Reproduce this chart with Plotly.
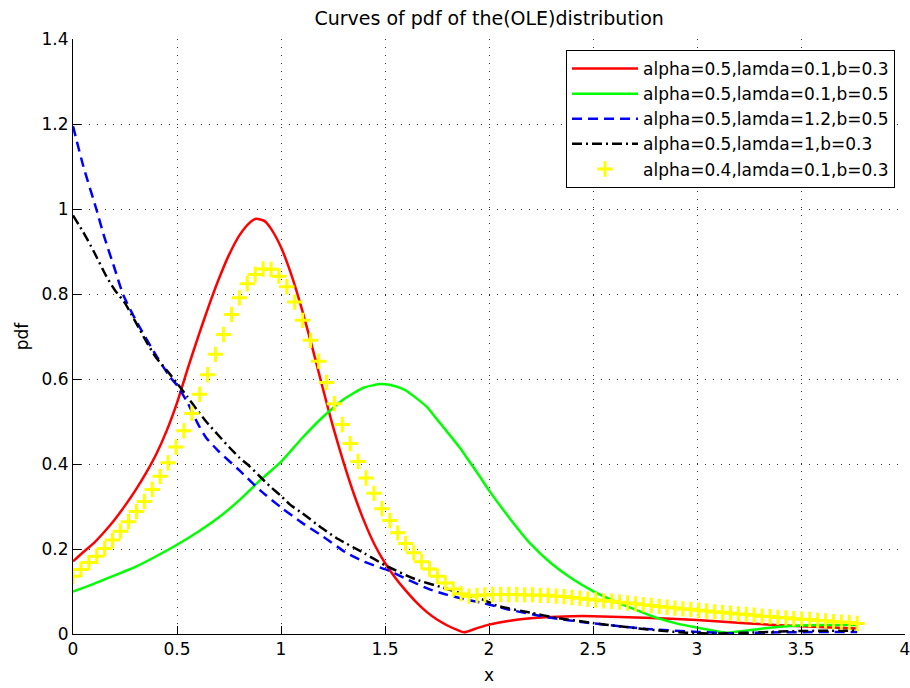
import plotly.graph_objects as go

# ---------------- data ----------------
red_x = [0.00, 0.05, 0.10, 0.15, 0.20, 0.25, 0.30, 0.35, 0.40, 0.45, 0.50, 0.55, 0.60, 0.65,
         0.70, 0.75, 0.80, 0.85, 0.88, 0.92, 0.95, 1.00, 1.05, 1.10, 1.15, 1.20,
         1.25, 1.30, 1.35, 1.40, 1.45, 1.50, 1.55, 1.60, 1.65, 1.70, 1.75, 1.80, 1.85, 1.88,
         1.95, 2.00, 2.10, 2.20, 2.30, 2.40, 2.50, 2.75, 3.00, 3.25, 3.50, 3.77]
red_y = [0.171, 0.193, 0.214, 0.240, 0.269, 0.302, 0.338, 0.378, 0.423, 0.478, 0.544, 0.622, 0.697, 0.768,
         0.834, 0.892, 0.938, 0.968, 0.977, 0.972, 0.955, 0.910, 0.845, 0.765, 0.675, 0.580,
         0.488, 0.405, 0.330, 0.265, 0.210, 0.167, 0.132, 0.102, 0.075, 0.052, 0.034, 0.020, 0.009, 0.004,
         0.015, 0.022, 0.031, 0.037, 0.040, 0.042, 0.042, 0.038, 0.033, 0.025, 0.018, 0.013]

green_x = [0.0, 0.1, 0.2, 0.3, 0.4, 0.5, 0.6, 0.7, 0.8, 0.9, 1.0, 1.1, 1.2, 1.3, 1.4, 1.48,
           1.55, 1.6, 1.7, 1.75, 1.8, 1.86, 1.9, 1.955, 2.0, 2.1, 2.2, 2.3, 2.4, 2.5, 2.6, 2.7,
           2.8, 2.9, 3.0, 3.1, 3.14, 3.2, 3.3, 3.4, 3.5, 3.6, 3.77]
green_y = [0.100, 0.118, 0.138, 0.158, 0.183, 0.210, 0.240, 0.274, 0.315, 0.362, 0.405, 0.460, 0.510,
           0.552, 0.580, 0.588, 0.583, 0.573, 0.535, 0.505, 0.475, 0.438, 0.410, 0.371, 0.338, 0.272,
           0.212, 0.166, 0.130, 0.101, 0.078, 0.058, 0.039, 0.025, 0.015, 0.006, 0.003, 0.006, 0.012,
           0.017, 0.020, 0.021, 0.021]

blue_x = [0.0, 0.05, 0.112, 0.15, 0.2, 0.24, 0.3, 0.4, 0.463, 0.5, 0.55, 0.6, 0.64, 0.7, 0.8, 0.9,
          1.0, 1.1, 1.2, 1.314, 1.4, 1.523, 1.6, 1.715, 1.8, 1.9, 1.971, 2.1, 2.276, 2.5, 2.757,
          3.0, 3.15, 3.4, 3.77]
blue_y = [1.195, 1.100, 1.000, 0.935, 0.860, 0.800, 0.740, 0.655, 0.607, 0.585, 0.545, 0.495, 0.462,
          0.430, 0.385, 0.338, 0.298, 0.262, 0.230, 0.191, 0.170, 0.148, 0.130, 0.105, 0.092, 0.080,
          0.073, 0.057, 0.040, 0.025, 0.012, 0.005, 0.002, 0.004, 0.005]

black_x = [0.0, 0.05, 0.1, 0.16, 0.2, 0.249, 0.3, 0.35, 0.4, 0.455, 0.5, 0.55, 0.6, 0.64, 0.7, 0.75,
           0.8, 0.848, 0.9, 0.946, 1.0, 1.042, 1.1, 1.2, 1.266, 1.4, 1.507, 1.651, 1.779, 1.9, 1.971,
           2.036, 2.2, 2.324, 2.5, 2.628, 2.8, 2.949, 3.1, 3.3, 3.5, 3.77]
black_y = [0.985, 0.945, 0.900, 0.842, 0.810, 0.779, 0.735, 0.690, 0.650, 0.618, 0.590, 0.558, 0.525,
           0.500, 0.467, 0.440, 0.415, 0.395, 0.370, 0.348, 0.325, 0.305, 0.285, 0.248, 0.226, 0.190,
           0.160, 0.128, 0.109, 0.090, 0.081, 0.067, 0.050, 0.038, 0.026, 0.018, 0.009, 0.003, 0.001,
           0.004, 0.007, 0.008]

yellow_x = [0.000, 0.038, 0.076, 0.114, 0.152, 0.190, 0.228, 0.267, 0.305, 0.343,
            0.381, 0.419, 0.457, 0.495, 0.533, 0.571, 0.609, 0.647, 0.685, 0.724,
            0.762, 0.800, 0.838, 0.876, 0.914, 0.952, 0.990, 1.028, 1.066, 1.104,
            1.142, 1.181, 1.219, 1.257, 1.295, 1.333, 1.371, 1.409, 1.447, 1.485,
            1.523, 1.561, 1.599, 1.638, 1.676, 1.714, 1.752, 1.790, 1.828, 1.866,
            1.904, 1.942, 1.980, 2.018, 2.056, 2.095, 2.133, 2.171, 2.209, 2.247,
            2.285, 2.323, 2.361, 2.399, 2.437, 2.475, 2.513, 2.551, 2.590, 2.628,
            2.666, 2.704, 2.742, 2.780, 2.818, 2.856, 2.894, 2.932, 2.970, 3.008,
            3.046, 3.085, 3.123, 3.161, 3.199, 3.237, 3.275, 3.313, 3.351, 3.389,
            3.427, 3.465, 3.503, 3.542, 3.580, 3.618, 3.656, 3.694, 3.732, 3.770]
yellow_y = [0.136, 0.152, 0.168, 0.183, 0.201, 0.221, 0.242, 0.264, 0.288, 0.312,
            0.340, 0.371, 0.403, 0.440, 0.478, 0.519, 0.564, 0.610, 0.658, 0.705,
            0.752, 0.791, 0.824, 0.846, 0.859, 0.858, 0.842, 0.817, 0.781, 0.738,
            0.691, 0.642, 0.592, 0.542, 0.493, 0.448, 0.406, 0.367, 0.331, 0.295,
            0.267, 0.238, 0.213, 0.191, 0.170, 0.153, 0.136, 0.120, 0.106, 0.095,
            0.089, 0.091, 0.092, 0.093, 0.093, 0.093, 0.093, 0.092, 0.092, 0.091,
            0.091, 0.089, 0.088, 0.086, 0.084, 0.082, 0.080, 0.078, 0.077, 0.075,
            0.073, 0.071, 0.069, 0.067, 0.065, 0.063, 0.061, 0.059, 0.058, 0.056,
            0.054, 0.052, 0.051, 0.049, 0.047, 0.046, 0.044, 0.042, 0.041, 0.039,
            0.038, 0.036, 0.035, 0.034, 0.032, 0.031, 0.029, 0.028, 0.027, 0.025]

names = ["alpha=0.5,lamda=0.1,b=0.3",
         "alpha=0.5,lamda=0.1,b=0.5",
         "alpha=0.5,lamda=1.2,b=0.5",
         "alpha=0.5,lamda=1,b=0.3",
         "alpha=0.4,lamda=0.1,b=0.3"]

x_ticks = [0, 0.5, 1, 1.5, 2, 2.5, 3, 3.5, 4]
x_ticktext = ["0", "0.5", "1", "1.5", "2", "2.5", "3", "3.5", "4"]
y_ticks = [0, 0.2, 0.4, 0.6, 0.8, 1.0, 1.2, 1.4]
y_ticktext = ["0", "0.2", "0.4", "0.6", "0.8", "1", "1.2", "1.4"]

FONT = "DejaVu Sans, Verdana, sans-serif"

# ---------------- figure ----------------
fig = go.Figure()
fig.add_trace(go.Scatter(x=red_x, y=red_y, mode="lines", name=names[0],
                         line=dict(color="#ff0000", width=2.5, shape="spline", smoothing=0.6)))
fig.add_trace(go.Scatter(x=green_x, y=green_y, mode="lines", name=names[1],
                         line=dict(color="#00ff00", width=2.5, shape="spline", smoothing=0.6)))
fig.add_trace(go.Scatter(x=blue_x, y=blue_y, mode="lines", name=names[2],
                         line=dict(color="#0000ff", width=2.5, dash="10px,6px",
                                   shape="spline", smoothing=0.6)))
fig.add_trace(go.Scatter(x=black_x, y=black_y, mode="lines", name=names[3],
                         line=dict(color="#000000", width=2.5, dash="10px,4px,2px,4px",
                                   shape="spline", smoothing=0.6)))
fig.add_trace(go.Scatter(x=yellow_x, y=yellow_y, mode="markers", name=names[4],
                         marker=dict(symbol="cross-thin", size=11, color="#ffff00",
                                     line=dict(color="#ffff00", width=3))))

axis_common = dict(
    showline=True, linecolor="black", linewidth=1,
    ticks="inside", ticklen=8, tickcolor="black", tickwidth=1,
    showgrid=True, gridcolor="#333333", gridwidth=1, griddash="1px,7px",
    zeroline=False, mirror=False, automargin=False,
    ticklabeloverflow="allow",
    tickfont=dict(family=FONT, size=17, color="black"),
)

fig.update_layout(
    width=910, height=688,
    margin=dict(l=73, r=5, t=39, b=54),
    paper_bgcolor="white", plot_bgcolor="white",
    font=dict(family=FONT, size=17, color="black"),
    title=dict(text="Curves of pdf of the(OLE)distribution", x=0.5375, xanchor="center",
               y=0.974, yanchor="middle", font=dict(family=FONT, size=19, color="black")),
    xaxis=dict(range=[0, 4], tickvals=x_ticks, ticktext=x_ticktext,
               title=dict(text="x", standoff=10, font=dict(family=FONT, size=17)), **axis_common),
    yaxis=dict(range=[0, 1.4], tickvals=y_ticks, ticktext=y_ticktext,
               title=dict(text="pdf", standoff=8, font=dict(family=FONT, size=17)), **axis_common),
    legend=dict(x=0.988, y=0.9815, xanchor="right", yanchor="top",
                bgcolor="white", bordercolor="black", borderwidth=1,
                font=dict(family=FONT, size=17, color="black"),
                itemwidth=66),
    showlegend=True,
    hovermode=False,
)

# remove the browser's default 8px page margin so the figure fills the window exactly
fig.write_html("out.html",
               config={"displayModeBar": False, "staticPlot": True},
               post_script="document.body.style.margin='0';document.body.style.overflow='hidden';")
